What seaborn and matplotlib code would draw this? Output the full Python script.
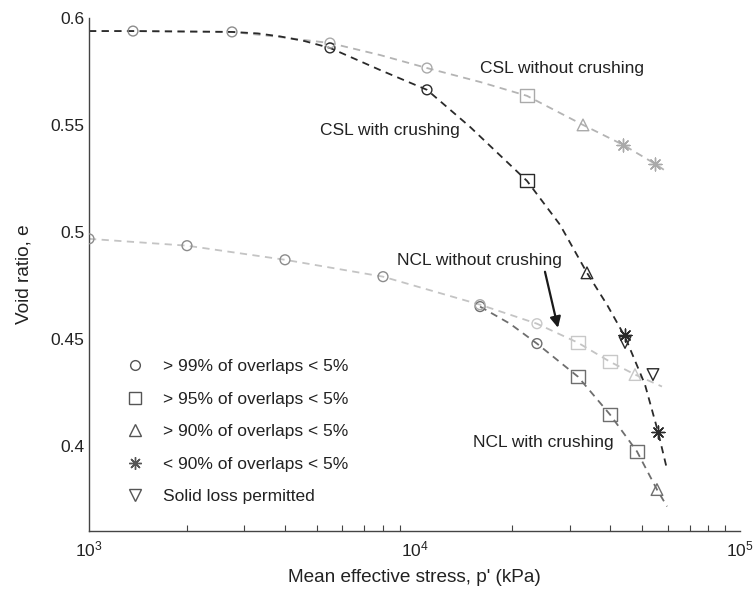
import numpy as np
import pandas as pd
import matplotlib
matplotlib.use("Agg")
import matplotlib.pyplot as plt
from matplotlib.lines import Line2D
import seaborn as sns

# ---------------- data ----------------
# dashed curve vertices
csl_free_p = [1000, 1365, 2750, 3863, 5501, 7834, 10925, 15900, 22164, 32940, 43710, 54820, 59700]
csl_free_e = [0.5939, 0.5939, 0.5935, 0.5911, 0.5883, 0.5827, 0.5766, 0.5701, 0.5636, 0.5500, 0.5407, 0.5318, 0.5280]

csl_crush_p = [1000, 1365, 2750, 3300, 3863, 4600, 5501, 7834, 10925, 14808, 22164, 27990, 33880, 39030, 44340, 51070, 55990, 59700]
csl_crush_e = [0.5939, 0.5939, 0.5935, 0.5928, 0.5914, 0.5892, 0.5860, 0.5757, 0.5664, 0.5491, 0.5238, 0.5033, 0.4808, 0.4659, 0.4509, 0.4285, 0.4065, 0.3888]

ncl_free_p = [1000, 2000, 4001, 8004, 15900, 23780, 31790, 39870, 47580, 57600]
ncl_free_e = [0.4967, 0.4935, 0.4869, 0.4790, 0.4659, 0.4570, 0.4481, 0.4392, 0.4332, 0.4276]

ncl_crush_p = [15900, 19650, 23780, 31790, 39870, 48270, 55590, 59700]
ncl_crush_e = [0.4650, 0.4570, 0.4477, 0.4322, 0.4145, 0.3972, 0.3794, 0.3715]

# markers: (p, e, kind, shade)
mk_p = [1365, 2750, 5501, 10925, 22164, 32940, 43710, 54820,
        5501, 10925, 22164, 33880, 44340, 55990, 44340,
        1000, 2000, 4001, 8004, 15900, 23780, 31790, 39870, 47580,
        15900, 23780, 31790, 39870, 48270, 55590,
        54040]
mk_e = [0.5939, 0.5935, 0.5883, 0.5766, 0.5636, 0.5500, 0.5407, 0.5318,
        0.5860, 0.5664, 0.5238, 0.4808, 0.4515, 0.4065, 0.4482,
        0.4967, 0.4935, 0.4869, 0.4790, 0.4659, 0.4570, 0.4481, 0.4392, 0.4332,
        0.4650, 0.4477, 0.4322, 0.4145, 0.3972, 0.3794,
        0.4332]
mk_kind = ["c", "c", "c", "c", "s", "t", "x", "x",
           "c", "c", "s", "t", "x", "x", "v",
           "c", "c", "c", "c", "c", "c", "s", "s", "t",
           "c", "c", "s", "s", "s", "t",
           "v"]
mk_shade = ["mid", "mid", "light", "light", "light", "light", "light", "light",
            "dark", "dark", "dark", "dark", "dark", "dark", "dark",
            "mid", "mid", "mid", "mid", "light", "pale", "pale", "pale", "pale",
            "grey", "grey", "grey", "grey", "grey", "grey",
            "dark"]

legend_labels = ["> 99% of overlaps < 5%", "> 95% of overlaps < 5%",
                 "> 90% of overlaps < 5%", "< 90% of overlaps < 5%",
                 "Solid loss permitted"]

# ---------------- styling ----------------
sns.set_style("white")
plt.rcParams["font.family"] = ["Liberation Sans", "DejaVu Sans"]
plt.rcParams["mathtext.fontset"] = "custom"
plt.rcParams["mathtext.rm"] = "Liberation Sans"
FS = 12.5
LFS = 13.7

marker_map = {"c": "o", "s": "s", "t": "^", "x": (8, 2, 0), "v": "v"}
size_map = {"c": 50, "s": 90, "t": 70, "x": 85, "v": 70}
shade_map = {"dark": "#2a2a2a", "grey": "#6e6e6e", "mid": "#8c8c8c",
             "light": "#aaaaaa", "pale": "#c8c8c8"}

fig = plt.figure(figsize=(7.53, 5.93), dpi=100)
ax = fig.add_axes([0.1182, 0.1045, 0.8645, 0.8651])

lines = [
    (csl_free_p, csl_free_e, "#b4b4b4"),
    (ncl_free_p, ncl_free_e, "#c4c4c4"),
    (ncl_crush_p, ncl_crush_e, "#6e6e6e"),
    (csl_crush_p, csl_crush_e, "#2a2a2a"),
]
for p, e, col in lines:
    d = pd.DataFrame({"p": p, "e": e})
    sns.lineplot(data=d, x="p", y="e", sort=False, ax=ax, color=col,
                 linestyle=(0, (4, 3)), linewidth=1.3, estimator=None)

mk = pd.DataFrame({"p": mk_p, "e": mk_e, "kind": mk_kind, "shade": mk_shade})
for (kind, shade), g in mk.groupby(["kind", "shade"]):
    col = shade_map[shade]
    face = col if kind == "x" else "none"
    sns.scatterplot(data=g, x="p", y="e", ax=ax, marker=marker_map[kind],
                    s=size_map[kind], facecolor=face, edgecolor=col,
                    linewidth=1.0, zorder=5)

ax.set_xscale("log")
ax.set_xlim(1000, 100000)
ax.set_ylim(0.36, 0.6)
ax.set_yticks([0.4, 0.45, 0.5, 0.55, 0.6])
ax.set_yticklabels(["0.4", "0.45", "0.5", "0.55", "0.6"])
ax.tick_params(axis="both", which="both", direction="in", colors="#444444",
               labelcolor="#222222", labelsize=FS)
ax.tick_params(axis="both", which="major", length=5, width=0.8)
ax.tick_params(axis="x", which="minor", length=4, width=0.8, bottom=True)
ax.tick_params(axis="x", which="major", pad=6)
for s in ["top", "right"]:
    ax.spines[s].set_visible(False)
for s in ["left", "bottom"]:
    ax.spines[s].set_color("#444444")
    ax.spines[s].set_linewidth(1.0)

ax.set_xlabel("Mean effective stress, p' (kPa)", fontsize=LFS, color="#222222", labelpad=7)
ax.set_ylabel("Void ratio, e", fontsize=LFS, color="#222222", labelpad=13)

# annotations
ax.text(15900, 0.5766, "CSL without crushing", fontsize=FS, color="#222222", va="center", ha="left")
ax.text(5124, 0.5472, "CSL with crushing", fontsize=FS, color="#222222", va="center", ha="left")
ax.text(8836, 0.4865, "NCL without crushing", fontsize=FS, color="#222222", va="center", ha="left")
ax.text(15120, 0.4014, "NCL with crushing", fontsize=FS, color="#222222", va="center", ha="left")
ax.annotate("", xy=(27600, 0.4551), xytext=(25170, 0.4813),
            arrowprops=dict(arrowstyle="-|>", color="#1a1a1a", lw=1.6,
                            mutation_scale=16, shrinkA=0, shrinkB=0))

# legend
handles = [Line2D([], [], linestyle="none", marker=marker_map[k], markersize=ms,
                  markerfacecolor=("#555555" if k == "x" else "none"),
                  markeredgecolor="#555555", markeredgewidth=1.0)
           for k, ms in zip(["c", "s", "t", "x", "v"], [7, 9, 8, 9, 8])]
leg = ax.legend(handles, legend_labels, loc="lower left", bbox_to_anchor=(0.02, 0.022),
                frameon=False, fontsize=FS, labelspacing=1.0, handletextpad=0.6,
                labelcolor="#222222")

fig.savefig("out.png", dpi=100)
